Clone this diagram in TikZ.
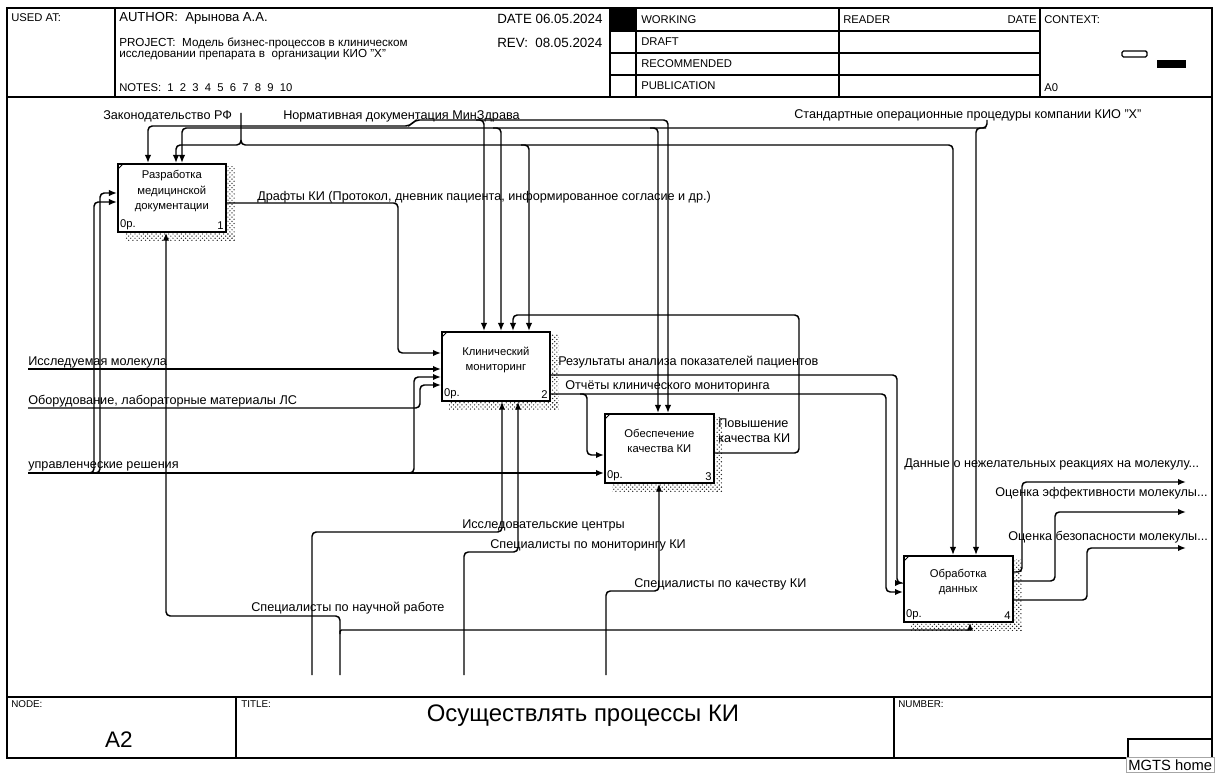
\documentclass[tikz,border=0pt]{standalone}
\usepackage{fontspec}
\setmainfont{Liberation Sans}
\usetikzlibrary{arrows.meta,calc,patterns}

\begin{document}
\begin{tikzpicture}[
    x=0.025cm, y=-0.025cm,
    >={Latex[length=2mm, width=1.6mm]},
    frame/.style={line width=1.2pt},
    func/.style={draw, line width=1.2pt, fill=white, anchor=north west, align=center, inner sep=0pt, font=\fontsize{8}{11}\selectfont},
    corner/.style={font=\fontsize{8}{9}\selectfont, inner sep=2pt},
    link/.style={->, line width=1.05pt, rounded corners=3pt},
    lbl/.style={anchor=west, inner sep=0pt, font=\fontsize{9}{10.5}\selectfont},
    hdr/.style={anchor=west, inner sep=0pt, font=\fontsize{8}{9}\selectfont},
    shade/.style={pattern=crosshatch dots, pattern color=black!85}
]
\useasboundingbox (0,0) rectangle (1219,774);

% form frame
\draw[frame] (7,8) rectangle (1212,758);
\draw[frame] (7,97) -- (1212,97);
\draw[frame] (115,8) -- (115,97);
\draw[frame] (610,8) -- (610,97);
\draw[frame] (636,8) -- (636,97);
\draw[frame] (839,8) -- (839,97);
\draw[frame] (1040,8) -- (1040,97);
\draw[frame] (610,31) -- (1040,31);
\draw[frame] (610,53) -- (1040,53);
\draw[frame] (610,75) -- (1040,75);
\fill (611,9) rectangle (635,31);
\draw[frame] (7,697) -- (1212,697);
\draw[frame] (236,697) -- (236,758);
\draw[frame] (894,697) -- (894,758);
\draw[frame] (1128,758) -- (1128,739) -- (1212,739);

% header texts
\node[hdr] (usedAt) at (11,18) {USED AT:};
\node[hdr, font=\fontsize{9.3}{10}\selectfont] (author) at (119,18) {AUTHOR:\ \ Арынова А.А.};
\node[hdr, font=\fontsize{8.3}{9}\selectfont] (project) at (119,43) {PROJECT:\ \ Модель бизнес-процессов в клиническом};
\node[hdr, font=\fontsize{8.3}{9}\selectfont] (project2) at (119,55) {исследовании препарата в\ \ организации КИО "Х"};
\node[hdr] (notes) at (119,88) {NOTES:\ \ 1\ \ 2\ \ 3\ \ 4\ \ 5\ \ 6\ \ 7\ \ 8\ \ 9\ \ 10};
\node[hdr, font=\fontsize{9.5}{10}\selectfont] (date) at (497,19) {DATE 06.05.2024};
\node[hdr, font=\fontsize{9.5}{10}\selectfont] (rev) at (497,43) {REV:\ \ 08.05.2024};
\node[hdr] (working) at (641,20) {WORKING};
\node[hdr] (draft) at (641,42) {DRAFT};
\node[hdr] (recom) at (641,64) {RECOMMENDED};
\node[hdr] (publ) at (641,86) {PUBLICATION};
\node[hdr] (reader) at (843,20) {READER};
\node[hdr, anchor=east] (rdate) at (1037,20) {DATE};
\node[hdr] (context) at (1044,20) {CONTEXT:};
\node[hdr] (ctxA) at (1044,88) {A0};
\draw[line width=0.9pt, rounded corners=1pt] (1122,51) rectangle (1147,57);
\fill (1157,60) rectangle (1186,68);

% footer texts
\node[hdr, font=\fontsize{7}{8}\selectfont] (nodeLbl) at (11,704) {NODE:};
\node[font=\fontsize{16}{18}\selectfont] (nodeNo) at (119,740) {A2};
\node[hdr, font=\fontsize{7}{8}\selectfont] (titleLbl) at (241,704) {TITLE:};
\node[font=\fontsize{17}{19}\selectfont] (title) at (583,716) {Осуществлять процессы КИ};
\node[hdr, font=\fontsize{7}{8}\selectfont] (numLbl) at (898,704) {NUMBER:};
\node[draw=black!35, fill=white, anchor=north west, inner sep=1.5pt, font=\fontsize{10.5}{12}\selectfont] (tip) at (1126,757) {MGTS home};

% activities
\node[func, minimum width=2.7cm, minimum height=1.7cm] (devDoc) at (117,163) {Разработка\\медицинской\\документации\\\mbox{}};
\node[func, minimum width=2.7cm, minimum height=1.725cm] (clinMon) at (441,331) {Клинический\\мониторинг\\\mbox{}};
\node[func, minimum width=2.725cm, minimum height=1.725cm] (qaKI) at (604,413) {Обеспечение\\качества КИ\\\mbox{}};
\node[func, minimum width=2.725cm, minimum height=1.65cm] (dataProc) at (903,555) {Обработка\\данных\\\mbox{}};

\foreach \b/\n in {devDoc/1, clinMon/2, qaKI/3, dataProc/4} {
    \fill[shade] ($(\b.north east)+(1,4)$) rectangle ($(\b.south east)+(8,8)$);
    \fill[shade] ($(\b.south west)+(8,1)$) rectangle ($(\b.south east)+(8,8)$);
    \draw[line width=0.6pt] ($(\b.north west)+(1,6)$) -- ++(5,-5);
    \node[corner, anchor=south west] at (\b.south west) {0р.};
    \node[corner, anchor=south east] at (\b.south east) {\n};
}

% free ends
\coordinate (inMol) at (28,369);
\coordinate (inEquip) at (28,408);
\coordinate (inMgmt) at (28,473);
\coordinate (mResC) at (312,675);
\coordinate (mMonS) at (464,675);
\coordinate (mQaS) at (606,675);
\coordinate (mSciS) at (340,675);
\coordinate (oAdv) at (1186,482);
\coordinate (oEff) at (1186,512);
\coordinate (oSaf) at (1186,548);

% controls
\node[lbl] (cLaw) at (103,116) {Законодательство РФ};
\node[lbl] (cNorm) at (283,116) {Нормативная документация МинЗдрава};
\node[lbl] (cSop) at (794,115) {Стандартные операционные процедуры компании КИО "Х"};
\draw[link, <->] (devDoc.north -| 148,0) -- (148,126) -- (410,126) -- (415,120) -- (668,120) -- (qaKI.north -| 668,0);
\draw[link] (476,120) -- (484,120) -- (clinMon.north -| 484,0);
\draw[link] (987,120) -- (987,128) -- (182,128) -- (devDoc.north -| 182,0);
\draw[link] (493,128) -- (501,128) -- (clinMon.north -| 501,0);
\draw[link] (650,128) -- (658,128) -- (qaKI.north -| 658,0);
\draw[link] (986,128) -- (976,128) -- (dataProc.north -| 976,0);
\draw[link] (241,113) -- (241,145) -- (953,145) -- (dataProc.north -| 953,0);
\draw[link] (241,140) -- (241,145) -- (176,145) -- (devDoc.north -| 176,0);
\draw[link] (521,145) -- (529,145) -- (clinMon.north -| 529,0);

% inputs and internal flows
\node[lbl] (iMol) at (28,362) {Исследуемая молекула};
\node[lbl] (iEquip) at (28,401) {Оборудование, лабораторные материалы ЛС};
\node[lbl] (iMgmt) at (28,466) {управленческие решения};
\node[lbl] (fDraft) at (257,197) {Драфты КИ (Протокол, дневник пациента, информированное согласие и др.)};
\node[lbl] (fRes) at (558,362) {Результаты анализа показателей пациентов};
\node[lbl] (fRep) at (565,386) {Отчёты клинического мониторинга};
\node[lbl, align=left] (fImpr) at (718,431) {Повышение\\качества КИ};
\draw[link] (inMol) -- (clinMon.west |- 0,369);
\draw[link] (inEquip) -- (420,408) -- (420,385) -- (clinMon.west |- 0,385);
\draw[link] (inMgmt) -- (qaKI.west |- 0,473);
\draw[link] (405,473) -- (414,473) -- (414,377) -- (clinMon.west |- 0,377);
\draw[link] (86,473) -- (94,473) -- (94,202) -- (devDoc.west |- 0,202);
\draw[link] (92,473) -- (100,473) -- (100,193) -- (devDoc.west |- 0,193);
\draw[link] (devDoc.east |- 0,203) -- (398,203) -- (398,353) -- (clinMon.west |- 0,353);
\draw[link] (clinMon.east |- 0,375) -- (897,375) -- (897,583) -- (dataProc.west |- 0,583);
\draw[link] (clinMon.east |- 0,394) -- (886,394) -- (886,592) -- (dataProc.west |- 0,592);
\draw[link] (580,394) -- (587,394) -- (587,455) -- (qaKI.west |- 0,455);
\draw[link] (qaKI.east |- 0,453) -- (799,453) -- (799,315) -- (513,315) -- (clinMon.north -| 513,0);

% mechanisms
\node[lbl] (mRes) at (462,525) {Исследовательские центры};
\node[lbl] (mMon) at (490,545) {Специалисты по мониторингу КИ};
\node[lbl] (mQa) at (634,584) {Специалисты по качеству КИ};
\node[lbl] (mSci) at (251,608) {Специалисты по научной работе};
\draw[link] (mResC) -- (312,532) -- (502,532) -- (clinMon.south -| 502,0);
\draw[link] (mMonS) -- (464,552) -- (518,552) -- (clinMon.south -| 518,0);
\draw[link] (mQaS) -- (606,591) -- (659,591) -- (qaKI.south -| 659,0);
\draw[link, rounded corners=1pt] (mSciS) -- (340,630) -- (970,630) -- (dataProc.south -| 970,0);
\draw[link] (340,634) -- (340,616) -- (166,616) -- (devDoc.south -| 166,0);

% outputs
\node[lbl] (oAdvL) at (904,464) {Данные о нежелательных реакциях на молекулу...};
\node[lbl] (oEffL) at (995,493) {Оценка эффективности молекулы...};
\node[lbl] (oSafL) at (1008,537) {Оценка безопасности молекулы...};
\draw[link] (dataProc.east |- 0,572) -- (1022,572) -- (1022,482) -- (oAdv);
\draw[link] (dataProc.east |- 0,581) -- (1055,581) -- (1055,512) -- (oEff);
\draw[link] (dataProc.east |- 0,600) -- (1087,600) -- (1087,548) -- (oSaf);
\end{tikzpicture}
\end{document}
